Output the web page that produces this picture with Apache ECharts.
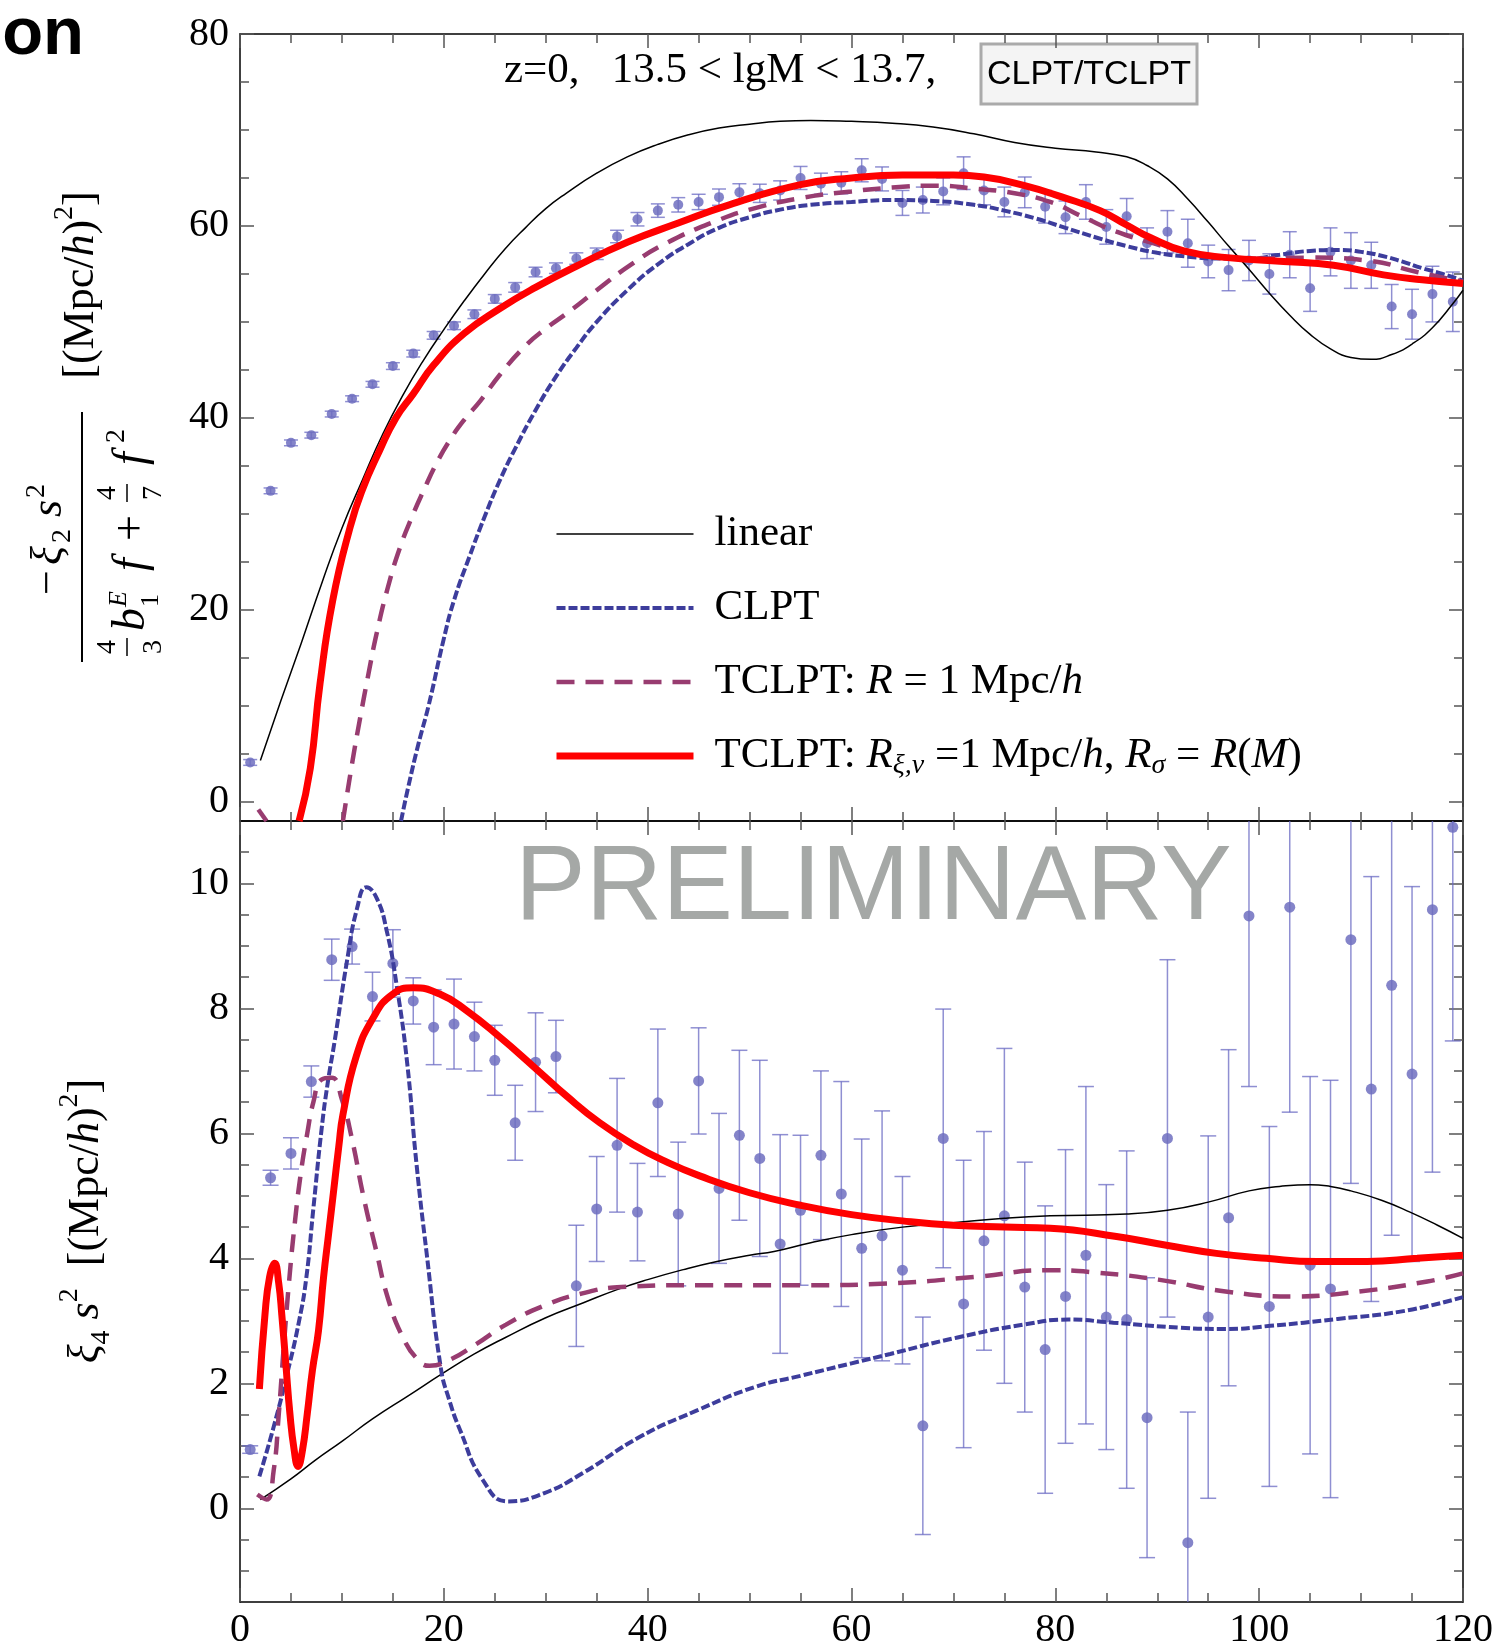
<!DOCTYPE html>
<html>
<head>
<meta charset="utf-8">
<script src="https://cdn.jsdelivr.net/npm/echarts@6.0.0/dist/echarts.min.js"></script>
<style>
  html, body { margin: 0; padding: 0; background: #fff; }
  #chart { width: 1502px; height: 1650px; }
</style>
</head>
<body>
<div id="chart"></div>
<script>
// measured points: odd separations 1..119
var X_PTS = [1, 3, 5, 7, 9, 11, 13, 15, 17, 19, 21, 23, 25, 27, 29, 31, 33, 35, 37, 39,
  41, 43, 45, 47, 49, 51, 53, 55, 57, 59, 61, 63, 65, 67, 69, 71, 73, 75, 77, 79,
  81, 83, 85, 87, 89, 91, 93, 95, 97, 99, 101, 103, 105, 107, 109, 111, 113, 115, 117, 119];

var UP_VAL = [4.1, 32.4, 37.4, 38.2, 40.4, 42.0, 43.5, 45.4, 46.7, 48.6, 49.6, 50.8, 52.4, 53.6, 55.2, 55.6, 56.6, 57.1, 58.9, 60.7,
  61.6, 62.2, 62.5, 63.0, 63.5, 63.4, 63.7, 65.0, 64.4, 64.5, 65.8, 64.9, 62.4, 62.7, 63.6, 65.5, 63.7, 62.5, 63.5, 62.0,
  60.9, 62.5, 59.9, 61.0, 58.2, 59.4, 58.2, 56.3, 55.4, 56.4, 55.0, 57.0, 53.5, 57.3, 56.4, 55.9, 51.6, 50.8, 52.9, 52.1];
var UP_ERR = [0.3, 0.3, 0.3, 0.3, 0.3, 0.3, 0.3, 0.35, 0.35, 0.4, 0.4, 0.45, 0.45, 0.5, 0.5, 0.55, 0.6, 0.6, 0.65, 0.7,
  0.7, 0.75, 0.8, 0.85, 0.9, 0.95, 1.0, 1.2, 1.1, 1.15, 1.2, 1.25, 1.3, 1.35, 1.4, 1.7, 1.5, 1.55, 1.6, 1.7,
  1.7, 1.8, 1.8, 1.86, 1.6, 2.2, 2.5, 1.7, 2.15, 2.1, 2.1, 2.4, 2.4, 2.5, 2.9, 2.4, 2.3, 2.6, 2.9, 3.1];

var LO_VAL = [0.94, 5.29, 5.68, 6.83, 8.78, 8.99, 8.19, 8.72, 8.12, 7.70, 7.75, 7.55, 7.17, 6.17, 7.14, 7.23, 3.56, 4.79, 5.81, 4.74,
  6.49, 4.71, 6.84, 5.12, 5.97, 5.60, 4.23, 4.77, 5.65, 5.03, 4.16, 4.36, 3.81, 1.32, 5.92, 3.27, 4.28, 4.68, 3.54, 2.54,
  3.39, 4.05, 3.06, 3.02, 1.45, 5.92, -0.55, 3.06, 4.65, 9.48, 3.23, 9.62, 3.89, 3.51, 9.10, 6.71, 8.37, 6.95, 9.58, 10.9];
var LO_ERR = [0.06, 0.12, 0.25, 0.25, 0.33, 0.28, 0.39, 0.54, 0.37, 0.6, 0.72, 0.55, 0.56, 0.6, 0.79, 0.58, 0.97, 0.84, 1.07, 0.78,
  1.18, 1.15, 0.85, 1.2, 1.36, 1.57, 1.75, 1.2, 1.35, 1.8, 1.75, 2.0, 1.5, 1.74, 2.07, 2.3, 1.75, 2.68, 2.0, 2.3,
  2.35, 2.7, 2.12, 2.7, 2.24, 2.86, 2.09, 2.9, 2.69, 2.73, 2.88, 3.28, 3.02, 3.34, 3.9, 3.4, 4.0, 3.0, 4.2, 3.42];

// theory curves, upper panel: -xi2 s^2 / (4/3 b f + 4/7 f^2)
var LINEAR_UP = [[2, 4.3], [4, 10.5], [6, 16.5], [8, 22.7], [10, 28.5], [12, 33.5], [14, 38.3], [16, 42.4], [18, 46.0],
  [20, 49.2], [22, 52.2], [24, 55.0], [26, 57.6], [28, 59.8], [30, 61.8], [32, 63.4], [35, 65.5], [38, 67.2], [41, 68.5],
  [44, 69.5], [47, 70.2], [50, 70.6], [53, 70.9], [56, 71.0], [60, 70.9], [64, 70.7], [68, 70.3], [72, 69.6], [76, 68.7],
  [80, 68.1], [84, 67.7], [87, 67.2], [89, 66.3], [91, 64.9], [93, 62.8], [95, 60.4], [97, 57.9], [99, 55.5], [101, 53.0],
  [103, 50.7], [105, 48.7], [107, 47.2], [109, 46.3], [111, 46.1], [113, 46.6], [115, 47.7], [117, 49.4], [119, 51.9], [120, 53.3]];
var CLPT_UP = [[15.8, -2], [16.5, 1.5], [17.5, 6], [18.5, 10], [20, 17], [21, 21], [22.5, 25.5], [24, 29.7], [25.5, 33.5],
  [27, 36.8], [29, 40.8], [31, 44.3], [33, 47.3], [35, 50], [38, 53.3], [41, 56], [44, 58.1], [47, 59.8], [50, 60.9],
  [53, 61.7], [56, 62.2], [60, 62.5], [64, 62.7], [68, 62.6], [72, 62.2], [75, 61.6], [78, 60.8], [81, 59.8], [84, 58.8],
  [87, 57.9], [90, 57.2], [93, 56.8], [96, 56.6], [99, 56.6], [102, 57.0], [105, 57.4], [108, 57.5], [110, 57.3],
  [112, 56.9], [114, 56.3], [116, 55.6], [118, 55.0], [120, 54.3]];
var TCLPT_UP_A = [[1.8, -0.8], [2.6, -2]];
var TCLPT_UP = [[10.1, -2], [11, 4], [11.8, 8.8], [12.6, 13.3], [13.4, 17.5], [14.5, 22.3], [15.7, 26.5], [17, 30],
  [18, 32.4], [19.3, 35.3], [20.6, 37.7], [22, 39.8], [23.6, 41.8], [25.5, 44.5], [28, 47.5], [30, 49.3], [32.2, 51],
  [35, 53.3], [38.4, 56], [42, 58.3], [46.7, 60.5], [50, 61.7], [55, 62.9], [60, 63.6], [64, 64], [68, 64.2], [72, 63.9],
  [76, 63.4], [79.5, 62.5], [82.8, 60.9], [86, 59.4], [89.3, 58.3], [93.9, 57], [99, 56.6], [105, 56.7], [110.6, 56.4],
  [115.5, 55.2], [120, 54.2]];
var TCLPT_RM_UP = [[5.8, -2], [6.9, 3.5], [7.85, 12.3], [9.1, 21], [10.8, 28.6], [12, 32.5], [13.7, 36.6], [15.3, 40],
  [17, 42.5], [19, 45.5], [22, 48.8], [25.5, 51.4], [29, 53.6], [33, 55.8], [38, 58.3], [43, 60.3], [48, 62.2], [55, 64.3],
  [60, 65], [65, 65.3], [70, 65.3], [73, 65.1], [77, 64.2], [80.7, 63.0], [84.4, 61.6], [87, 60.1], [89.3, 58.8],
  [92.6, 57.4], [96.9, 56.7], [102.4, 56.3], [107.3, 55.9], [112.2, 54.9], [116, 54.4], [120, 54.0]];

// theory curves, lower panel: xi4 s^2
var LINEAR_LO = [[2, 0.14], [5, 0.47], [7.4, 0.77], [10, 1.07], [13, 1.43], [16.5, 1.8], [20, 2.17], [23, 2.47], [26, 2.73],
  [30, 3.05], [33.7, 3.29], [37, 3.5], [40, 3.66], [43.5, 3.82], [46.8, 3.95], [50, 4.05], [52.4, 4.11], [56, 4.25],
  [60, 4.38], [65, 4.5], [70, 4.57], [75, 4.64], [79.5, 4.68], [87, 4.71], [91, 4.77], [95, 4.9], [99, 5.08], [102, 5.15],
  [105, 5.18], [107, 5.15], [109, 5.08], [112, 4.93], [114.8, 4.74], [117.5, 4.53], [120, 4.32]];
var CLPT_LO = [[1.9, 0.51], [3.3, 1.3], [4.7, 2.2], [5.8, 3.0], [6.5, 3.68], [7.2, 4.8], [8, 6.06], [8.6, 6.8], [9.3, 7.49],
  [10.5, 8.76], [11.5, 9.61], [12.4, 9.94], [13.4, 9.77], [14.4, 9.24], [15.4, 8.34], [16.4, 7.13], [17.3, 5.54], [18.3, 4.1],
  [19.7, 2.25], [20.5, 1.75], [21.6, 1.25], [23.8, 0.46], [26.3, 0.11], [29.8, 0.24], [33.6, 0.56], [39.2, 1.14],
  [44.9, 1.57], [50.5, 1.94], [55, 2.12], [60, 2.32], [63.8, 2.47], [70.3, 2.73], [76.9, 2.94], [81.3, 3.02], [85.7, 2.97],
  [92.3, 2.89], [96.7, 2.87], [101.1, 2.92], [107.7, 3.03], [114.3, 3.16], [120, 3.38]];
var TCLPT_LO = [[1.7, 0.22], [2.6, 0.14], [3.3, 0.6], [3.8, 1.5], [4.3, 2.6], [4.8, 3.6], [5.4, 4.6], [6.0, 5.4], [6.6, 6.0],
  [7.2, 6.5], [8.0, 6.86], [9.0, 6.89], [10, 6.54], [11, 5.9], [12.1, 5.0], [13.4, 4.1], [14.5, 3.37], [16, 2.73],
  [17.5, 2.37], [18.6, 2.28], [20.5, 2.37], [23.1, 2.62], [26.1, 2.94], [29.8, 3.24], [33.6, 3.44], [37.4, 3.54],
  [44.9, 3.57], [55, 3.57], [63.8, 3.6], [72.5, 3.71], [79.1, 3.81], [83.5, 3.78], [90.1, 3.66], [96.7, 3.47],
  [103.3, 3.39], [109.8, 3.47], [116.5, 3.63], [120, 3.76]];
var TCLPT_RM_LO = [[1.9, 1.91], [2.45, 3.1], [2.9, 3.7], [3.4, 3.92], [3.8, 3.6], [4.1, 3.1], [4.5, 2.3], [4.9, 1.51],
  [5.3, 0.95], [5.7, 0.67], [6.1, 0.9], [6.6, 1.51], [7.1, 2.2], [7.7, 2.84], [8.2, 3.7], [8.7, 4.4], [9.2, 5.1], [9.7, 5.8],
  [10.1, 6.3], [11.4, 7.23], [13.1, 7.86], [15, 8.23], [17, 8.33], [19.6, 8.23], [22.2, 7.97], [25.5, 7.54], [28.8, 7.07],
  [32.1, 6.59], [35.3, 6.17], [38.6, 5.82], [41.9, 5.54], [45.1, 5.32], [50, 5.05], [55, 4.85], [60, 4.7], [65, 4.6],
  [70, 4.53], [75, 4.5], [79.5, 4.48], [86, 4.35], [90.9, 4.21], [95.8, 4.08], [100.7, 4.0], [105.7, 3.95], [110.6, 3.95],
  [115.5, 4.0], [120, 4.05]];

// tick positions
var UP_MAJOR = [0, 20, 40, 60, 80];
var UP_MINOR = [5, 10, 15, 25, 30, 35, 45, 50, 55, 65, 70, 75];
var LO_MAJOR = [0, 2, 4, 6, 8, 10];
var LO_MINOR = [-1, -0.5, 0.5, 1, 1.5, 2.5, 3, 3.5, 4.5, 5, 5.5, 6.5, 7, 7.5, 8.5, 9, 9.5, 10.5];

var NAMES = ['linear', 'CLPT', 'TCLPT: R = 1 Mpc/h', 'TCLPT: R\u03be,\u03bd =1 Mpc/h, R\u03c3 = R(M)'];
var LEGEND_TEXT = {};
LEGEND_TEXT[NAMES[0]] = 'linear';
LEGEND_TEXT[NAMES[1]] = 'CLPT';
LEGEND_TEXT[NAMES[2]] = 'TCLPT: {i|R} = 1 Mpc/{i|h}';
LEGEND_TEXT[NAMES[3]] = 'TCLPT: {i|R}{sub|\u03be,\u03bd} =1 Mpc/{i|h}, {i|R}{sub|\u03c3} = {i|R}({i|M})';

var SERIF = '"Liberation Serif", "Times New Roman", serif';
var SANS = '"Liberation Sans", Arial, sans-serif';
var TICK_COLOR = '#555';
var DOT_COLOR = '#6e6ebf';
var BAR_COLOR = 'rgba(105,105,195,0.75)';
var BLUE = '#3d3d9c';
var PURPLE = '#983c70';
var RED = '#ff0000';
var NO_SYMBOL = { color: 'rgba(0,0,0,0)', borderWidth: 0, opacity: 0 };

var CLPT_DASH = [9, 3];
var TCLPT_DASH = [18, 11];

function withErr(vals, errs) {
  return X_PTS.map(function (x, i) { return [x, vals[i], errs[i]]; });
}

function errBars(capW) {
  return function (params, api) {
    var x = api.value(0), y = api.value(1), e = api.value(2);
    var top = api.coord([x, y + e]);
    var bot = api.coord([x, y - e]);
    var st = { stroke: BAR_COLOR, lineWidth: 1.5 };
    return {
      type: 'group',
      children: [
        { type: 'line', shape: { x1: top[0], y1: top[1], x2: bot[0], y2: bot[1] }, style: st },
        { type: 'line', shape: { x1: top[0] - capW, y1: top[1], x2: top[0] + capW, y2: top[1] }, style: st },
        { type: 'line', shape: { x1: bot[0] - capW, y1: bot[1], x2: bot[0] + capW, y2: bot[1] }, style: st }
      ]
    };
  };
}

function xAxis(grid, pos, labels) {
  return {
    type: 'value', gridIndex: grid, position: pos, min: 0, max: 120, interval: 20,
    axisLine: { show: true, onZero: false, lineStyle: { color: '#000', width: 1.5 } },
    axisTick: { show: true, inside: true, length: 14, lineStyle: { color: TICK_COLOR, width: 1.5 } },
    minorTick: { show: true, splitNumber: 4, length: 9, lineStyle: { color: TICK_COLOR, width: 1.5 } },
    axisLabel: { show: labels, margin: 8, fontFamily: SERIF, fontSize: 40, color: '#000', showMinLabel: true, showMaxLabel: true },
    splitLine: { show: false }
  };
}

function yAxis(grid, pos, min, max, ticks, len, labels, line) {
  return {
    type: 'value', gridIndex: grid, position: pos, min: min, max: max,
    axisLine: { show: line, onZero: false, lineStyle: { color: '#000', width: 1.5 } },
    axisTick: { show: true, inside: true, length: len, customValues: ticks, lineStyle: { color: TICK_COLOR, width: 1.5 } },
    axisLabel: { show: labels, customValues: ticks, margin: 11, fontFamily: SERIF, fontSize: 40, color: '#000' },
    splitLine: { show: false }
  };
}

function curve(name, data, xi, yi, color, width, dash, z) {
  return {
    name: name, type: 'line', data: data, xAxisIndex: xi, yAxisIndex: yi,
    showSymbol: false, symbol: 'none', smooth: 0.5,
    lineStyle: { color: color, width: width, type: dash || 'solid' },
    itemStyle: { color: color }, z: z, silent: true, animation: false
  };
}

// rotated label piece: u along reading direction from y0, bx = baseline screen x
function tok(text, u, bx, size, italic, y0) {
  return {
    type: 'text', x: bx - 0.34 * size, y: y0 - u, rotation: Math.PI / 2,
    style: {
      text: text, fontFamily: SERIF, fontSize: size, fontStyle: italic ? 'italic' : 'normal',
      fill: '#000', align: 'left', textAlign: 'left', verticalAlign: 'middle', textVerticalAlign: 'middle'
    }
  };
}

var RICH = {
  n: { fontFamily: SERIF, fontSize: 44, lineHeight: 60 },
  i: { fontFamily: SERIF, fontSize: 44, fontStyle: 'italic', lineHeight: 60 },
  sub: { fontFamily: SERIF, fontSize: 28, lineHeight: 34, verticalAlign: 'bottom' },
  sup: { fontFamily: SERIF, fontSize: 28, lineHeight: 32, verticalAlign: 'top' }
};

var Y0 = 655;
var labelPieces = [
  tok('\u2212', 60, 64, 44, false, Y0),
  tok('\u03be', 90, 64, 44, true, Y0),
  tok('2', 112, 72, 28, false, Y0),
  tok('s', 138, 64, 44, true, Y0),
  tok('2', 157, 46, 28, false, Y0),
  tok('4', 1, 117, 28, false, Y0),
  tok('3', 1, 163, 28, false, Y0),
  tok('b', 24, 148, 46, true, Y0),
  tok('E', 48, 128, 26, true, Y0),
  tok('1', 48, 160, 26, false, Y0),
  tok('f', 84, 148, 46, true, Y0),
  tok('+', 114, 148, 46, false, Y0),
  tok('4', 155, 117, 28, false, Y0),
  tok('7', 155, 163, 28, false, Y0),
  tok('f', 190, 148, 46, true, Y0),
  tok('2', 212, 126, 28, false, Y0),
  { type: 'line', shape: { x1: 82, y1: 412, x2: 82, y2: 662 }, style: { stroke: '#000', lineWidth: 2 } },
  { type: 'line', shape: { x1: 127, y1: Y0 + 1, x2: 127, y2: Y0 - 17 }, style: { stroke: '#000', lineWidth: 1.5 } },
  { type: 'line', shape: { x1: 127, y1: Y0 - 153, x2: 127, y2: Y0 - 171 }, style: { stroke: '#000', lineWidth: 1.5 } },
  {
    type: 'text', x: 81, y: 285, rotation: Math.PI / 2,
    style: { text: '{n|[(Mpc/}{i|h}{n|)}{sup|2}{n|]}', rich: RICH, fill: '#000', align: 'center', textAlign: 'center', verticalAlign: 'middle', textVerticalAlign: 'middle' }
  },
  {
    type: 'text', x: 86, y: 1221, rotation: Math.PI / 2,
    style: { text: '{i|\u03be}{sub|4}{n| }{i|s}{sup|2}{n|  [(Mpc/}{i|h}{n|)}{sup|2}{n|]}', rich: RICH, fill: '#000', align: 'center', textAlign: 'center', verticalAlign: 'middle', textVerticalAlign: 'middle' }
  }
];

var chart = echarts.init(document.getElementById('chart'), null, { renderer: 'canvas' });

chart.setOption({
  animation: false,
  backgroundColor: '#fff',
  grid: [
    { left: 240, top: 34, width: 1223, height: 787 },
    { left: 240, top: 821, width: 1223, height: 785 }
  ],
  xAxis: [
    xAxis(0, 'bottom', false), xAxis(0, 'top', false),
    xAxis(1, 'bottom', true), xAxis(1, 'top', false)
  ],
  yAxis: [
    yAxis(0, 'left', -2, 80, UP_MAJOR, 14, true, true),
    yAxis(0, 'left', -2, 80, UP_MINOR, 9, false, false),
    yAxis(0, 'right', -2, 80, UP_MAJOR, 14, false, true),
    yAxis(0, 'right', -2, 80, UP_MINOR, 9, false, false),
    yAxis(1, 'left', -1.5, 11, LO_MAJOR, 14, true, true),
    yAxis(1, 'left', -1.5, 11, LO_MINOR, 9, false, false),
    yAxis(1, 'right', -1.5, 11, LO_MAJOR, 14, false, true),
    yAxis(1, 'right', -1.5, 11, LO_MINOR, 9, false, false)
  ],
  legend: {
    data: [
      { name: NAMES[0], itemStyle: NO_SYMBOL, lineStyle: { color: '#000', width: 1.5, type: 'solid' } },
      { name: NAMES[1], itemStyle: NO_SYMBOL, lineStyle: { color: BLUE, width: 4, type: CLPT_DASH } },
      { name: NAMES[2], itemStyle: NO_SYMBOL, lineStyle: { color: PURPLE, width: 4.5, type: TCLPT_DASH } },
      { name: NAMES[3], itemStyle: NO_SYMBOL, lineStyle: { color: RED, width: 7, type: 'solid' } }
    ],
    orient: 'vertical', left: 553, top: 510, padding: 0,
    itemWidth: 137, itemHeight: 12, itemGap: 26,
    selectedMode: false,
    formatter: function (name) { return LEGEND_TEXT[name]; },
    textStyle: {
      fontFamily: SERIF, fontSize: 43, color: '#000', lineHeight: 48, padding: [0, 0, 0, 16],
      rich: {
        i: { fontFamily: SERIF, fontSize: 43, fontStyle: 'italic', lineHeight: 48 },
        sub: { fontFamily: SERIF, fontSize: 28, fontStyle: 'italic', lineHeight: 22, verticalAlign: 'bottom' }
      }
    }
  },
  graphic: [
    { type: 'text', x: 84, y: 69, style: { text: 'on', fontFamily: SANS, fontWeight: 'bold', fontSize: 67, fill: '#000', align: 'right', textAlign: 'right', verticalAlign: 'bottom', textVerticalAlign: 'bottom' } },
    { type: 'text', x: 504, y: 71, style: { text: 'z=0,   13.5 < lgM < 13.7,', fontFamily: SERIF, fontSize: 43, fill: '#000', align: 'left', textAlign: 'left', verticalAlign: 'middle', textVerticalAlign: 'middle' } },
    { type: 'rect', shape: { x: 981, y: 44, width: 216, height: 60 }, style: { fill: '#f4f4f4', stroke: '#aaaaaa', lineWidth: 3 } },
    { type: 'text', x: 1089, y: 75, style: { text: 'CLPT/TCLPT', fontFamily: SANS, fontSize: 34, fill: '#000', align: 'center', textAlign: 'center', verticalAlign: 'middle', textVerticalAlign: 'middle' } },
    { type: 'text', x: 515, y: 890, z: 1, style: { text: 'PRELIMINARY', fontFamily: SANS, fontSize: 106, fill: '#a5a8a6', align: 'left', textAlign: 'left', verticalAlign: 'middle', textVerticalAlign: 'middle' } }
  ].concat(labelPieces),
  series: [
    { type: 'custom', xAxisIndex: 0, yAxisIndex: 0, data: withErr(UP_VAL, UP_ERR), renderItem: errBars(7), clip: true, z: 2, silent: true },
    { type: 'scatter', xAxisIndex: 0, yAxisIndex: 0, data: withErr(UP_VAL, UP_ERR), symbolSize: 10, itemStyle: { color: DOT_COLOR, opacity: 0.85 }, z: 2, silent: true },
    { type: 'custom', xAxisIndex: 2, yAxisIndex: 4, data: withErr(LO_VAL, LO_ERR), renderItem: errBars(8), clip: true, z: 2, silent: true },
    { type: 'scatter', xAxisIndex: 2, yAxisIndex: 4, data: withErr(LO_VAL, LO_ERR), symbolSize: 11, itemStyle: { color: DOT_COLOR, opacity: 0.85 }, z: 2, silent: true },

    curve(NAMES[0], LINEAR_UP, 0, 0, '#000', 1.5, null, 3),
    curve(NAMES[1], CLPT_UP, 0, 0, BLUE, 4, CLPT_DASH, 4),
    curve(NAMES[2], TCLPT_UP_A, 0, 0, PURPLE, 4.5, TCLPT_DASH, 5),
    curve(NAMES[2], TCLPT_UP, 0, 0, PURPLE, 4.5, TCLPT_DASH, 5),
    curve(NAMES[3], TCLPT_RM_UP, 0, 0, RED, 7, null, 6),

    curve(NAMES[0], LINEAR_LO, 2, 4, '#000', 1.5, null, 3),
    curve(NAMES[1], CLPT_LO, 2, 4, BLUE, 4, CLPT_DASH, 4),
    curve(NAMES[2], TCLPT_LO, 2, 4, PURPLE, 4.5, TCLPT_DASH, 5),
    curve(NAMES[3], TCLPT_RM_LO, 2, 4, RED, 7, null, 6)
  ]
});
</script>
</body>
</html>
